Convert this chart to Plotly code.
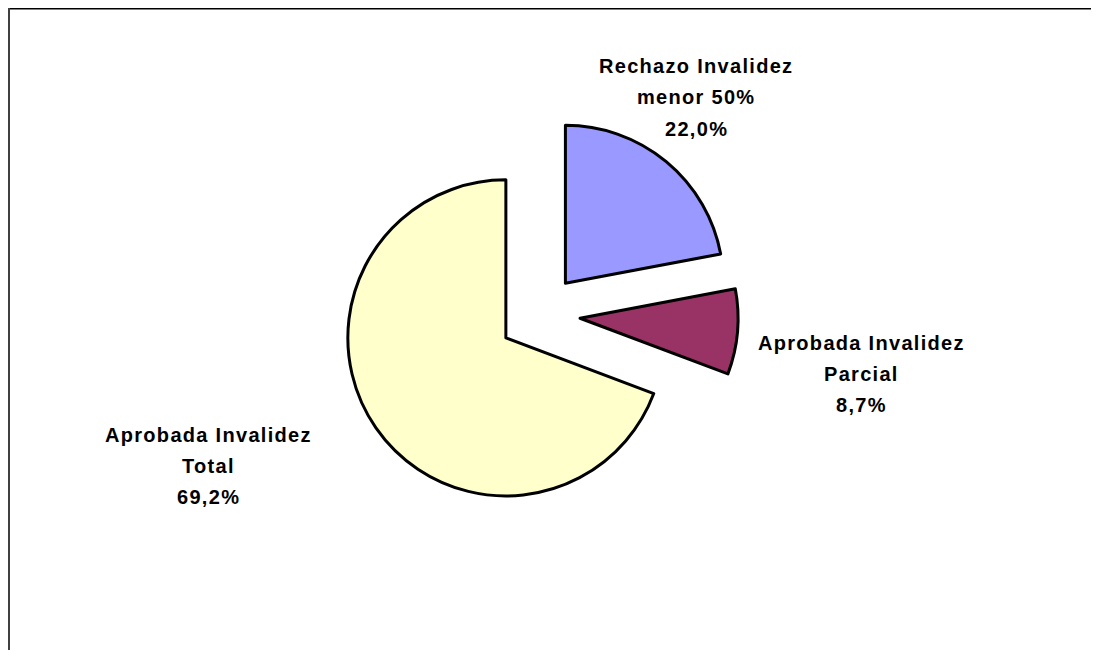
import plotly.graph_objects as go

# ---- data ----
categories = ["Rechazo Invalidez menor 50%", "Aprobada Invalidez Parcial", "Aprobada Invalidez Total"]
label_lines = [["Rechazo Invalidez", "menor 50%"], ["Aprobada Invalidez", "Parcial"], ["Aprobada Invalidez", "Total"]]
values = [22.0, 8.7, 69.2]
colors = ["#9999FF", "#993366", "#FFFFCC"]

# page body has an 8px default margin, so the figure is shifted by 8px
OFF = 8
W, H = 1099 - OFF, 658 - 2 * OFF

# label positions in window pixels (centre x, first line centre y) — layout only
label_pos = [(696, 66.5), (861, 343), (208.5, 435)]
line_gap = 31

# pie centre / domain half-size in window pixels
cx, cy, half = 539.4, 314.7, 198.8

fig = go.Figure()
fig.add_trace(go.Pie(
    labels=categories,
    values=values,
    sort=False,
    direction="clockwise",
    rotation=0,
    pull=[0.258, 0.258, 0.258],
    marker=dict(colors=colors, line=dict(color="black", width=3)),
    textinfo="none",
    hoverinfo="label+percent",
    showlegend=False,
    domain=dict(x=[(cx - OFF - half) / W, (cx - OFF + half) / W],
                y=[1 - (cy - OFF + half) / H, 1 - (cy - OFF - half) / H]),
))

annotations = []
for lines, v, (px, py) in zip(label_lines, values, label_pos):
    texts = lines + [f"{v:.1f}%".replace(".", ",")]
    for i, t in enumerate(texts):
        annotations.append(dict(
            x=(px - OFF) / W, y=1 - (py - OFF + i * line_gap) / H,
            xref="paper", yref="paper",
            xanchor="center", yanchor="middle",
            text=f'<span style="letter-spacing:1.3px">{t}</span>',
            showarrow=False,
            font=dict(family="Liberation Sans, Arial, sans-serif", size=20, color="black", weight="bold"),
        ))

shapes = [
    dict(type="line", xref="paper", yref="paper", x0=0, x1=1, y0=1 - 0.75 / H, y1=1 - 0.75 / H,
         line=dict(color="black", width=1.5)),
    dict(type="line", xref="paper", yref="paper", x0=1 / W, x1=1 / W, y0=1, y1=0,
         line=dict(color="#404040", width=2)),
]

fig.update_layout(
    width=W, height=H,
    margin=dict(l=0, r=0, t=0, b=0),
    paper_bgcolor="white",
    plot_bgcolor="white",
    annotations=annotations,
    shapes=shapes,
)

fig.write_html("out.html")
